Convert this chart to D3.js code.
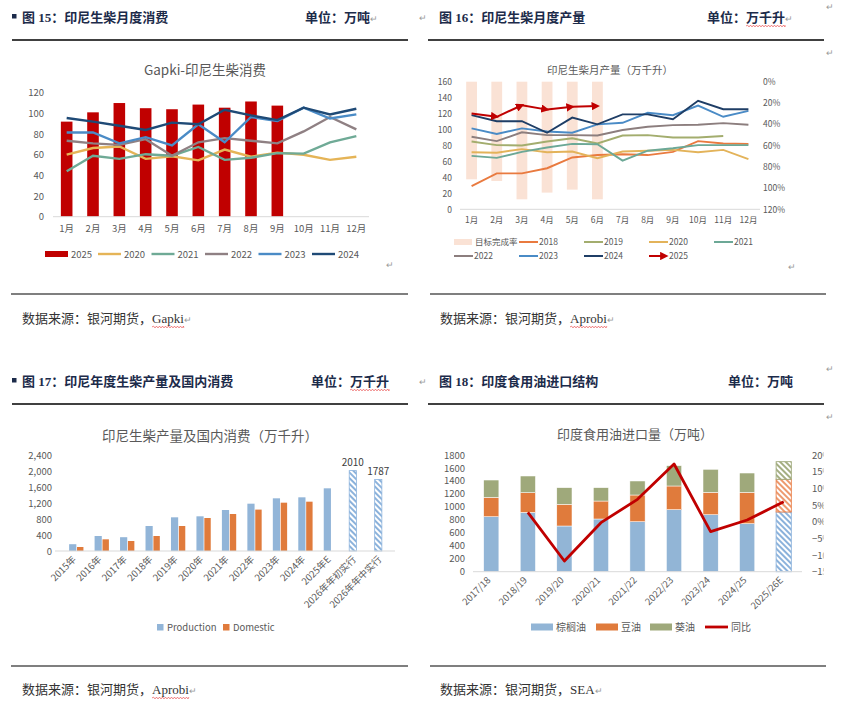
<!DOCTYPE html>
<html>
<head>
<meta charset="utf-8">
<script src="https://cdn.jsdelivr.net/npm/d3@7/dist/d3.min.js"></script>
<style>
  body { margin: 0; background: #fff; }
  svg text { font-family: 'Noto Sans CJK SC', 'Noto Sans', sans-serif; }
  .hd { font-family: 'Liberation Serif', 'Noto Sans CJK SC', serif !important; font-weight: bold; fill: #1C2B4A; }
  .src { font-family: 'Liberation Serif', 'Noto Sans CJK SC', serif !important; fill: #333; }
</style>
</head>
<body>
<svg id="page" width="844" height="712"></svg>
<script>
// ---- data ----
const months = ['1月', '2月', '3月', '4月', '5月', '6月', '7月', '8月', '9月', '10月', '11月', '12月']

// fig 15: Gapki consumption (万吨)
const cons2025 = [92, 101, 110, 105, 104, 108.5, 105.5, 111.5, 107.5]
const cons2020 = [60, 66.5, 68, 56, 58.5, 54.5, 65, 58, 62, 60, 55, 58]
const cons2021 = [44, 59, 56, 60.5, 59, 67.5, 55, 57, 61.5, 61, 72, 78]
const cons2022 = [73.5, 71, 69.5, 75, 59, 72, 76, 73.5, 71, 82.5, 96.5, 84.5]
const cons2023 = [81.5, 81.5, 71, 77, 69, 89.5, 72, 96.5, 92.5, 105.5, 95, 99]
const cons2024 = [95.5, 92, 88, 84, 91, 89.5, 103.5, 98, 93.5, 105.5, 99, 104.5]

// fig 16: monthly production (万千升) and target completion rate
const target2025 = [0.918, 0.934, 1.106, 1.043, 1.015, 1.106]
const prod2018 = [29, 45, 45, 51.5, 65, 68, 69, 68, 72, 85.5, 82.5, 82]
const prod2019 = [85, 80.5, 80, 85, 89, 82.5, 92.5, 93, 90, 90, 92]
const prod2020 = [71.5, 71, 75.5, 71.5, 72.5, 64, 72.5, 73.5, 74.5, 71.5, 74.5, 63]
const prod2021 = [67, 64.5, 72, 77.5, 82, 81.5, 61, 73.5, 76.5, 80.5, 80.5, 80.5]
const prod2022 = [91, 85.5, 96.5, 93, 93, 92.5, 99.5, 103.5, 105.5, 106, 108, 106]
const prod2023 = [101.5, 94.5, 101.5, 97.5, 96, 106.5, 108.5, 121, 118, 130, 116, 123.5]
const prod2024 = [118, 110.5, 110.5, 96, 115, 106.5, 119, 119, 113, 136, 125.5, 125.5]
const prod2025 = [120, 116, 130.5, 125, 128.5, 129.5]

// fig 17: annual production and domestic consumption (万千升)
const years = ['2015年', '2016年', '2017年', '2018年', '2019年', '2020年', '2021年', '2022年', '2023年', '2024年', '2025年E', '2026年年初实行', '2026年年中实行']
const production = [170, 375, 345, 625, 842, 867, 1025, 1183, 1317, 1342, 1567, 2010, 1787]
const domestic = [100, 292, 250, 375, 625, 825, 925, 1035, 1208, 1233, null, null, null]
const labelled = ['2026年年初实行', '2026年年中实行']

// fig 18: India edible oil imports (万吨)
const seasons = ['2017/18', '2018/19', '2019/20', '2020/21', '2021/22', '2022/23', '2023/24', '2024/25', '2025/26E']
const palmOil = [848, 915, 705, 813, 771, 957, 879, 741, 921]
const soyOil = [299, 304, 334, 277, 412, 365, 345, 483, 504]
const sunOil = [267, 257, 257, 206, 216, 313, 355, 298, 272]
const yoy = [null, 0.028, -0.118, -0.003, 0.067, 0.173, -0.03, 0.005, 0.06]

const svg = d3.select('#page')
svg.append('rect').attr('width', 844).attr('height', 712).attr('fill', '#fff')
const defs = svg.append('defs')

function hatch(id, color) {
  const p = defs.append('pattern').attr('id', id).attr('patternUnits', 'userSpaceOnUse')
    .attr('width', 4).attr('height', 4).attr('patternTransform', 'rotate(-45)')
  p.append('rect').attr('width', 4).attr('height', 4).attr('fill', '#fff')
  p.append('line').attr('x1', 1).attr('x2', 1).attr('y1', 0).attr('y2', 4).attr('stroke', color).attr('stroke-width', 1.6)
}
hatch('hBlue', '#6E9FD2')
hatch('hOrange', '#E9804A')
hatch('hGreen', '#8E9A63')

function wavy(x0, x1, y) {
  let p = `M${x0},${y}`
  let up = true
  for (let x = x0; x < x1; x += 1.5) { p += `L${Math.min(x + 1.5, x1)},${y + (up ? -0.9 : 0.9)}`; up = !up }
  svg.append('path').attr('d', p).attr('fill', 'none').attr('stroke', '#E53030').attr('stroke-width', 0.6)
}

function mark(x, y) {
  svg.append('text').attr('x', x).attr('y', y).attr('font-size', 9).attr('fill', '#9a9a9a').text('↵')
}

function header(o) {
  if (o.square) svg.append('rect').attr('x', 12).attr('y', o.y - 8).attr('width', 4.5).attr('height', 4.5).attr('fill', '#1C2B4A')
  svg.append('text').attr('class', 'hd').attr('x', o.x).attr('y', o.y).attr('font-size', 13).text(o.title)
  const u = svg.append('text').attr('class', 'hd').attr('x', o.ux).attr('y', o.y).attr('font-size', 13)
  u.append('tspan').text('单位：' + o.unit)
  if (o.mark) u.append('tspan').attr('font-size', 9).attr('font-weight', 'normal').attr('fill', '#9a9a9a').text('↵')
  if (o.wavy) {
    const n = u.node()
    wavy(n.getStartPositionOfChar(3).x, n.getEndPositionOfChar(2 + o.unit.length).x, o.y + 4)
  }
  svg.append('line').attr('x1', o.lx0).attr('x2', o.lx1).attr('y1', o.ly).attr('y2', o.ly).attr('stroke', '#000').attr('stroke-width', 1.3)
}

function source(x, y, who, wav) {
  const t = svg.append('text').attr('class', 'src').attr('x', x).attr('y', y).attr('font-size', 13)
  t.append('tspan').text('数据来源：银河期货，' + who)
  t.append('tspan').attr('font-size', 9).attr('fill', '#9a9a9a').text('↵')
  if (wav) {
    const n = t.node()
    wavy(n.getStartPositionOfChar(10).x, n.getEndPositionOfChar(9 + who.length).x, y + 4)
  }
}

function styleAxis(g, size) {
  g.select('.domain').remove()
  g.selectAll('text').attr('fill', '#595959').attr('font-size', size)
}

// ---- headers and footers ----
header({ square: true, x: 22, y: 22, title: '图 15：印尼生柴月度消费', ux: 305, unit: '万吨', mark: true, lx0: 12, lx1: 408, ly: 40 })
header({ x: 439, y: 22, title: '图 16：印尼生柴月度产量', ux: 707, unit: '万千升', wavy: true, mark: true, lx0: 428, lx1: 824, ly: 40 })
header({ square: true, x: 22, y: 386, title: '图 17：印尼年度生柴产量及国内消费', ux: 311, unit: '万千升', wavy: true, lx0: 12, lx1: 408, ly: 404 })
header({ x: 439, y: 386, title: '图 18：印度食用油进口结构', ux: 728, unit: '万吨', lx0: 428, lx1: 824, ly: 404 })
mark(419, 21); mark(826, 10); mark(826, 56); mark(419, 385); mark(826, 372); mark(826, 420)
mark(386, 268); mark(788, 270)

;[294, 666].forEach(ly => {
  svg.append('line').attr('x1', 11).attr('x2', 408).attr('y1', ly).attr('y2', ly).attr('stroke', '#000').attr('stroke-width', 1.2)
  svg.append('line').attr('x1', 430).attr('x2', 826).attr('y1', ly).attr('y2', ly).attr('stroke', '#000').attr('stroke-width', 1.2)
})
source(22, 323, 'Gapki', true)
source(440, 323, 'Aprobi', true)
source(22, 694, 'Aprobi', true)
source(440, 694, 'SEA', false)

// ---- fig 15 ----
;(function () {
  const g = svg.append('g')
  const x = d3.scaleBand().domain(months).range([53.5, 369.5])
  const y = d3.scaleLinear().domain([0, 120]).range([216.7, 92.7])
  const cx = i => x(months[i]) + x.bandwidth() / 2
  g.append('text').attr('x', 205).attr('y', 75).attr('text-anchor', 'middle').attr('font-size', 13.5).attr('fill', '#595959').text('Gapki-印尼生柴消费')
  const ya = g.append('g').attr('transform', 'translate(47,0)').call(d3.axisLeft(y).tickValues(d3.range(0, 121, 20)).tickSize(0).tickPadding(3))
  styleAxis(ya, 9.5)
  g.selectAll('rect.b').data(cons2025).join('rect')
    .attr('x', (d, i) => cx(i) - 5.8).attr('width', 11.6)
    .attr('y', d => y(d)).attr('height', d => y(0) - y(d)).attr('fill', '#C00000')
  g.append('line').attr('x1', 53).attr('x2', 369).attr('y1', y(0)).attr('y2', y(0)).attr('stroke', '#D9D9D9')
  const xa = g.append('g').attr('transform', `translate(0,${y(0)})`).call(d3.axisBottom(x).tickSize(0).tickPadding(9))
  styleAxis(xa, 9.5)
  const series = [
    ['2020', cons2020, '#E5B457'], ['2021', cons2021, '#6FAA96'], ['2022', cons2022, '#8F8083'],
    ['2023', cons2023, '#4A8BC6'], ['2024', cons2024, '#1F4A76']
  ]
  const line = d3.line().x((d, i) => cx(i)).y(d => y(d))
  series.forEach(s => g.append('path').datum(s[1]).attr('d', line).attr('fill', 'none').attr('stroke', s[2]).attr('stroke-width', 2.4))
  // legend
  const ly = 254
  g.append('rect').attr('x', 45).attr('y', ly - 3).attr('width', 23).attr('height', 6).attr('fill', '#C00000')
  g.append('text').attr('x', 71).attr('y', ly + 3.5).attr('font-size', 9.5).attr('fill', '#595959').text('2025')
  series.forEach((s, i) => {
    const lx = 98 + i * 53.5
    g.append('line').attr('x1', lx).attr('x2', lx + 23).attr('y1', ly).attr('y2', ly).attr('stroke', s[2]).attr('stroke-width', 2.4)
    g.append('text').attr('x', lx + 26).attr('y', ly + 3.5).attr('font-size', 9.5).attr('fill', '#595959').text(s[0])
  })
})()

// ---- fig 16 ----
;(function () {
  const g = svg.append('g')
  const x = d3.scaleBand().domain(months).range([459, 761])
  const y = d3.scaleLinear().domain([0, 160]).range([209.3, 81.7])
  const yr = d3.scaleLinear().domain([0, 1.2]).range([81.7, 209.3])
  const cx = i => x(months[i]) + x.bandwidth() / 2
  g.append('text').attr('x', 610).attr('y', 74).attr('text-anchor', 'middle').attr('font-size', 10.5).attr('fill', '#595959').text('印尼生柴月产量（万千升）')
  const ya = g.append('g').attr('transform', 'translate(455,0)').call(d3.axisLeft(y).tickValues(d3.range(0, 161, 20)).tickSize(0).tickPadding(3))
  styleAxis(ya, 8.5)
  const yb = g.append('g').attr('transform', 'translate(762,0)').call(d3.axisRight(yr).tickValues(d3.range(0, 1.21, 0.2)).tickFormat(d3.format('.0%')).tickSize(0).tickPadding(1))
  styleAxis(yb, 8.5)
  g.selectAll('rect.t').data(target2025).join('rect')
    .attr('x', (d, i) => cx(i) - 5.4).attr('width', 10.8)
    .attr('y', yr(0)).attr('height', d => yr(d) - yr(0)).attr('fill', '#FAE2D5')
  g.append('line').attr('x1', 460).attr('x2', 760).attr('y1', y(0)).attr('y2', y(0)).attr('stroke', '#D9D9D9')
  const xa = g.append('g').attr('transform', `translate(0,${y(0)})`).call(d3.axisBottom(x).tickSize(0).tickPadding(8))
  styleAxis(xa, 8.5)
  const series = [
    ['2018', prod2018, '#E97A3F'], ['2019', prod2019, '#A3AD6E'], ['2020', prod2020, '#E3B35A'],
    ['2021', prod2021, '#6CA896'], ['2022', prod2022, '#8C7E7E'], ['2023', prod2023, '#4A8BC6'],
    ['2024', prod2024, '#1F3E66']
  ]
  const line = d3.line().x((d, i) => cx(i)).y(d => y(d))
  series.forEach(s => g.append('path').datum(s[1]).attr('d', line).attr('fill', 'none').attr('stroke', s[2]).attr('stroke-width', 1.9))
  // 2025 with arrowheads
  defs.append('marker').attr('id', 'arr').attr('viewBox', '0 0 10 10').attr('refX', 7).attr('refY', 5)
    .attr('markerWidth', 4.2).attr('markerHeight', 4.2).attr('orient', 'auto').attr('markerUnits', 'strokeWidth')
    .append('path').attr('d', 'M0,0L10,5L0,10z').attr('fill', '#C00000')
  prod2025.slice(1).forEach((v, k) => {
    g.append('line').attr('x1', cx(k)).attr('y1', y(prod2025[k])).attr('x2', cx(k + 1)).attr('y2', y(v))
      .attr('stroke', '#C00000').attr('stroke-width', 2).attr('marker-end', 'url(#arr)')
  })
  // legend
  const fs = 8.5
  g.append('rect').attr('x', 454).attr('y', 239).attr('width', 18).attr('height', 6).attr('fill', '#FAE2D5')
  g.append('text').attr('x', 475).attr('y', 245).attr('font-size', fs).attr('fill', '#595959').text('目标完成率')
  const slots = [[519, 242], [584, 242], [649, 242], [714, 242], [454, 256], [519, 256], [584, 256]]
  series.forEach((s, i) => {
    const [lx, ly] = slots[i]
    g.append('line').attr('x1', lx).attr('x2', lx + 19).attr('y1', ly).attr('y2', ly).attr('stroke', s[2]).attr('stroke-width', 2)
    g.append('text').attr('x', lx + 20).attr('y', ly + 3).attr('font-size', fs).attr('fill', '#595959').text(s[0])
  })
  g.append('line').attr('x1', 649).attr('x2', 666).attr('y1', 256).attr('y2', 256).attr('stroke', '#C00000').attr('stroke-width', 2).attr('marker-end', 'url(#arr)')
  g.append('text').attr('x', 669).attr('y', 259).attr('font-size', fs).attr('fill', '#595959').text('2025')
})()

// ---- fig 17 ----
;(function () {
  const g = svg.append('g')
  const x = d3.scaleBand().domain(years).range([64, 395])
  const y = d3.scaleLinear().domain([0, 2400]).range([551, 455])
  const cx = c => x(c) + x.bandwidth() / 2
  g.append('text').attr('x', 210).attr('y', 441).attr('text-anchor', 'middle').attr('font-size', 13.5).attr('fill', '#595959').text('印尼生柴产量及国内消费（万千升）')
  const ya = g.append('g').attr('transform', 'translate(55,0)').call(d3.axisLeft(y).tickValues(d3.range(0, 2401, 400)).tickFormat(d3.format(',')).tickSize(0).tickPadding(3))
  styleAxis(ya, 9.5)
  g.selectAll('rect.p').data(production).join('rect')
    .attr('x', (d, i) => cx(years[i]) - 7.6).attr('width', 7.2)
    .attr('y', d => y(d)).attr('height', d => y(0) - y(d))
    .attr('fill', (d, i) => labelled.includes(years[i]) ? 'url(#hBlue)' : '#92B5D8')
    .attr('stroke', (d, i) => labelled.includes(years[i]) ? '#8DB3DD' : 'none').attr('stroke-width', 0.8)
  g.selectAll('rect.d').data(domestic).join('rect')
    .attr('x', (d, i) => cx(years[i]) + 0.3).attr('width', 6.4)
    .attr('y', d => y(d || 0)).attr('height', d => y(0) - y(d || 0)).attr('fill', '#E07B3C')
  g.append('line').attr('x1', 55).attr('x2', 395).attr('y1', y(0)).attr('y2', y(0)).attr('stroke', '#D9D9D9')
  production.forEach((v, i) => {
    if (!labelled.includes(years[i])) return
    g.append('text').attr('x', cx(years[i]) - 4).attr('y', y(v) - 5).attr('text-anchor', 'middle')
      .attr('font-size', 10).attr('fill', '#404040').text(v)
  })
  const xa = g.append('g').attr('transform', `translate(0,${y(0)})`).call(d3.axisBottom(x).tickSize(0).tickPadding(0))
  styleAxis(xa, 9.5)
  xa.selectAll('text').attr('text-anchor', 'end').attr('dy', 0).attr('transform', 'translate(0,9) rotate(-45)')
  const ly = 627
  g.append('rect').attr('x', 157).attr('y', ly - 3).attr('width', 6.5).attr('height', 6.5).attr('fill', '#92B5D8')
  g.append('text').attr('x', 167).attr('y', ly + 3.5).attr('font-size', 9.5).attr('fill', '#595959').text('Production')
  g.append('rect').attr('x', 223).attr('y', ly - 3).attr('width', 6.5).attr('height', 6.5).attr('fill', '#E07B3C')
  g.append('text').attr('x', 233).attr('y', ly + 3.5).attr('font-size', 9.5).attr('fill', '#595959').text('Domestic')
})()

// ---- fig 18 ----
;(function () {
  const g = svg.append('g')
  const x = d3.scaleBand().domain(seasons).range([473, 802])
  const y = d3.scaleLinear().domain([0, 1800]).range([571.7, 455])
  const yr = d3.scaleLinear().domain([-0.15, 0.2]).range([571.7, 455])
  const cx = c => x(c) + x.bandwidth() / 2
  g.append('text').attr('x', 635).attr('y', 439).attr('text-anchor', 'middle').attr('font-size', 13).attr('fill', '#595959').text('印度食用油进口量（万吨）')
  const ya = g.append('g').attr('transform', 'translate(468,0)').call(d3.axisLeft(y).tickValues(d3.range(0, 1801, 200)).tickFormat(d3.format('d')).tickSize(0).tickPadding(3))
  styleAxis(ya, 9.5)
  defs.append('clipPath').attr('id', 'clipR').append('rect').attr('x', 800).attr('y', 440).attr('width', 23.5).attr('height', 140)
  const yb = g.append('g').attr('clip-path', 'url(#clipR)').append('g').attr('transform', 'translate(811,0)')
    .call(d3.axisRight(yr).tickValues(d3.range(-0.15, 0.201, 0.05)).tickFormat(d3.format('.0%')).tickSize(0).tickPadding(1))
  styleAxis(yb, 9.5)
  const keys = ['palm', 'soy', 'sun']
  const fills = { palm: '#92B5D6', soy: '#E07B3C', sun: '#9FA97B' }
  const hatches = { palm: ['url(#hBlue)', '#8DB3DD'], soy: ['url(#hOrange)', '#E9804A'], sun: ['url(#hGreen)', '#9FA97B'] }
  const rows = seasons.map((s, i) => ({ season: s, palm: palmOil[i], soy: soyOil[i], sun: sunOil[i] }))
  const stack = d3.stack().keys(keys)(rows)
  stack.forEach(layer => {
    g.selectAll(null).data(layer).join('rect')
      .attr('x', d => cx(d.data.season) - 7.6).attr('width', 15.2)
      .attr('y', d => y(d[1])).attr('height', d => y(d[0]) - y(d[1]))
      .attr('fill', d => d.data.season === '2025/26E' ? hatches[layer.key][0] : fills[layer.key])
      .attr('stroke', d => d.data.season === '2025/26E' ? hatches[layer.key][1] : '#fff')
      .attr('stroke-width', d => d.data.season === '2025/26E' ? 0.9 : 0.5)
  })
  g.append('line').attr('x1', 473).attr('x2', 802).attr('y1', y(0)).attr('y2', y(0)).attr('stroke', '#D9D9D9')
  const pts = yoy.map((v, i) => [seasons[i], v]).filter(d => d[1] != null)
  g.append('path').datum(pts).attr('d', d3.line().x(d => cx(d[0])).y(d => yr(d[1])))
    .attr('fill', 'none').attr('stroke', '#C00000').attr('stroke-width', 2.8).attr('stroke-linejoin', 'round')
  const xa = g.append('g').attr('transform', `translate(0,${y(0)})`).call(d3.axisBottom(x).tickSize(0).tickPadding(0))
  styleAxis(xa, 9.5)
  xa.selectAll('text').attr('text-anchor', 'end').attr('dy', 0).attr('transform', 'translate(0,9) rotate(-45)')
  const ly = 627
  const leg = [['棕榈油', '#92B5D6', 531], ['豆油', '#E07B3C', 596], ['葵油', '#9FA97B', 650]]
  leg.forEach(l => {
    g.append('rect').attr('x', l[2]).attr('y', ly - 3.5).attr('width', 22).attr('height', 7).attr('fill', l[1])
    g.append('text').attr('x', l[2] + 25).attr('y', ly + 4).attr('font-size', 10).attr('fill', '#595959').text(l[0])
  })
  g.append('line').attr('x1', 705).attr('x2', 728).attr('y1', ly).attr('y2', ly).attr('stroke', '#C00000').attr('stroke-width', 2.8)
  g.append('text').attr('x', 731).attr('y', ly + 4).attr('font-size', 10).attr('fill', '#595959').text('同比')
})()
</script>
</body>
</html>
